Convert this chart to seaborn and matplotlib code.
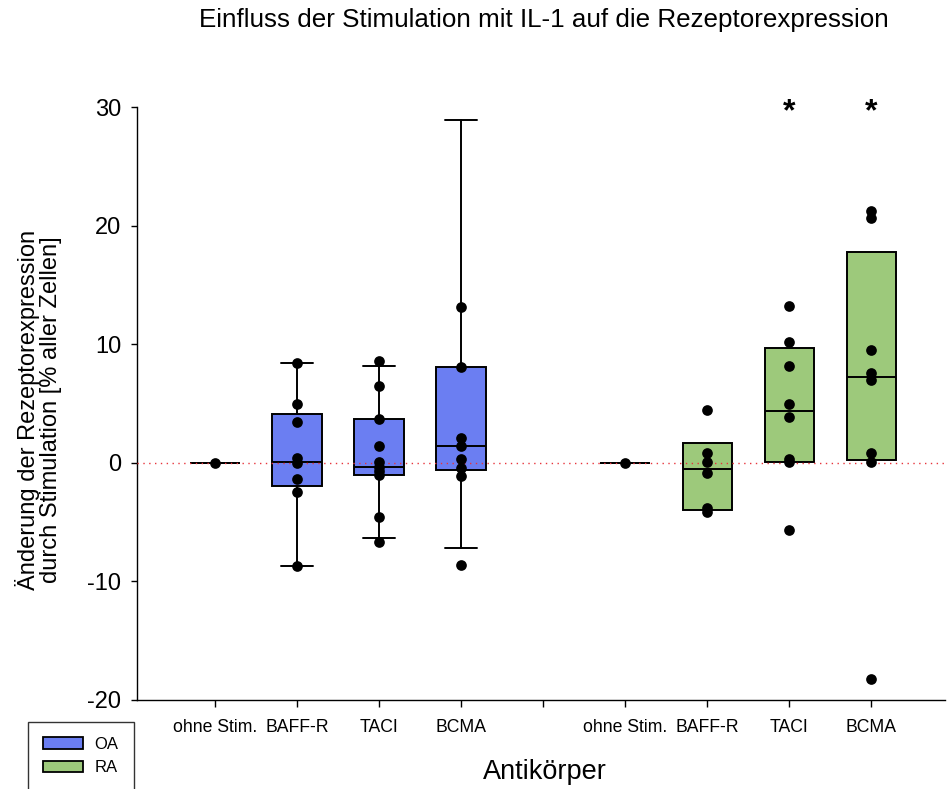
import numpy as np
import pandas as pd
import seaborn as sns
import matplotlib
matplotlib.use("Agg")
import matplotlib.pyplot as plt
from matplotlib.patches import Patch

# Antibody categories and patient groups
antibodies = ["ohne Stim.", "BAFF-R", "TACI", "BCMA"]
groups = ["OA", "RA"]
group_colors = ["#6B7EF2", "#9DC97B"]

# Individual measurements (change in % of all cells)
oa_ohne = [0.0]
oa_baffr = [8.4, 4.95, 3.45, 0.4, 0.0, -1.35, -2.5, -8.7]
oa_taci = [8.6, 6.5, 3.7, 1.4, 0.1, -0.35, -0.65, -1.05, -4.6, -6.7]
oa_bcma = [13.1, 8.1, 2.1, 1.4, 0.3, -0.4, -1.1, -8.6]
ra_ohne = [0.0]
ra_baffr = [4.45, 0.8, 0.05, -0.85, -3.8, -4.15]
ra_taci = [13.25, 10.2, 8.2, 4.95, 3.85, 0.35, 0.05, -5.7]
ra_bcma = [21.2, 20.6, 9.5, 7.55, 7.0, 0.85, 0.05, -18.2]

# Box statistics per antibody
oa_q1 = [0.0, -1.95, -1.05, -0.6]
oa_med = [0.0, 0.1, -0.35, 1.38]
oa_q3 = [0.0, 4.15, 3.7, 8.1]
oa_whislo = [0.0, -8.7, -6.3, -7.15]
oa_whishi = [0.0, 8.4, 8.2, 28.9]
ra_q1 = [0.0, -4.0, 0.1, 0.2]
ra_med = [0.0, -0.5, 4.35, 7.2]
ra_q3 = [0.0, 1.7, 9.7, 17.8]

# Significance marks (RA group)
sig_labels = ["", "", "*", "*"]

oa_pos = [0, 1, 2, 3]
ra_pos = [5, 6, 7, 8]

sns.set_style("ticks")
plt.rcParams["font.family"] = ["Liberation Sans", "DejaVu Sans"]
for key in ["text.color", "axes.labelcolor", "xtick.color", "ytick.color", "axes.edgecolor"]:
    plt.rcParams[key] = "black"

fig = plt.figure(figsize=(9.47, 7.89), dpi=100)
ax = fig.add_axes([137 / 947, 1 - 700 / 789, 808 / 947, 593 / 789])

lw = 1.4
common = dict(
    widths=0.6, patch_artist=True, showfliers=False, manage_ticks=False,
    boxprops=dict(edgecolor="black", linewidth=lw),
    medianprops=dict(color="black", linewidth=lw),
    whiskerprops=dict(color="black", linewidth=lw),
    capprops=dict(color="black", linewidth=lw),
)

oa_stats = [dict(q1=a, med=b, q3=c, whislo=d, whishi=e)
            for a, b, c, d, e in zip(oa_q1, oa_med, oa_q3, oa_whislo, oa_whishi)]
ra_stats = [dict(q1=a, med=b, q3=c, whislo=a, whishi=c)
            for a, b, c in zip(ra_q1, ra_med, ra_q3)]

bp_oa = ax.bxp(oa_stats, positions=oa_pos, showcaps=True, capwidths=0.4, **common)
bp_ra = ax.bxp(ra_stats, positions=ra_pos, showcaps=False, **common)
for b in bp_oa["boxes"]:
    b.set_facecolor(group_colors[0])
for b in bp_ra["boxes"]:
    b.set_facecolor(group_colors[1])

# Points
series = [oa_ohne, oa_baffr, oa_taci, oa_bcma, ra_ohne, ra_baffr, ra_taci, ra_bcma]
positions = oa_pos + ra_pos
df = pd.DataFrame({
    "pos": np.concatenate([[p] * len(s) for p, s in zip(positions, series)]).astype(float),
    "value": np.concatenate(series),
})
sns.stripplot(data=df, x="pos", y="value", native_scale=True, jitter=False,
              orient="x", color="black", size=7.7, linewidth=0, ax=ax, zorder=4)

ax.axhline(0, color="#e8343c", lw=1.0, ls=(0, (1, 3.2)), zorder=3)

for p, s in zip(ra_pos, sig_labels):
    if s:
        ax.text(p, 29.55, s, ha="center", va="center", fontsize=23, fontweight="bold",
                color="black")

ax.set_xlim(-0.95, 8.9)
ax.set_ylim(-20, 30)
ax.set_xticks([0, 1, 2, 3, 4, 5, 6, 7, 8])
ax.set_xticklabels(antibodies + [""] + antibodies, fontsize=12.7)
ax.set_yticks([-20, -10, 0, 10, 20, 30])
ax.set_yticklabels(["-20", "-10", "0", "10", "20", "30"], fontsize=17)
ax.tick_params(axis="x", length=5, width=1, pad=9, color="black")
ax.tick_params(axis="y", length=4.5, width=1, pad=7, color="black")
ax.set_xlabel("")
ax.set_ylabel("")
sns.despine(ax=ax)
for sp in ["left", "bottom"]:
    ax.spines[sp].set_linewidth(1.0)
    ax.spines[sp].set_color("black")

fig.text(544 / 947, 1 - 20 / 789, "Einfluss der Stimulation mit IL-1 auf die Rezeptorexpression",
         ha="center", va="center", fontsize=18.7)
fig.text(545 / 947, 1 - 772 / 789, "Antikörper", ha="center", va="center", fontsize=19.5)
fig.text(38 / 947, 1 - 410 / 789,
         "Änderung der Rezeptorexpression\ndurch Stimulation [% aller Zellen]",
         ha="center", va="center", rotation=90, multialignment="center", fontsize=17,
         linespacing=1.0)

handles = [Patch(facecolor=c, edgecolor="black", linewidth=1.3, label=g)
           for g, c in zip(groups, group_colors)]
leg = fig.legend(handles=handles, loc="upper left", bbox_to_anchor=(28 / 947, 1 - 722 / 789),
                 fontsize=12, frameon=True, fancybox=False, edgecolor="black",
                 handlelength=2.4, handleheight=0.7, handletextpad=0.7,
                 borderpad=0.9, labelspacing=0.5, borderaxespad=0)
leg.get_frame().set_linewidth(1.0)

fig.savefig("out.png", dpi=100)
